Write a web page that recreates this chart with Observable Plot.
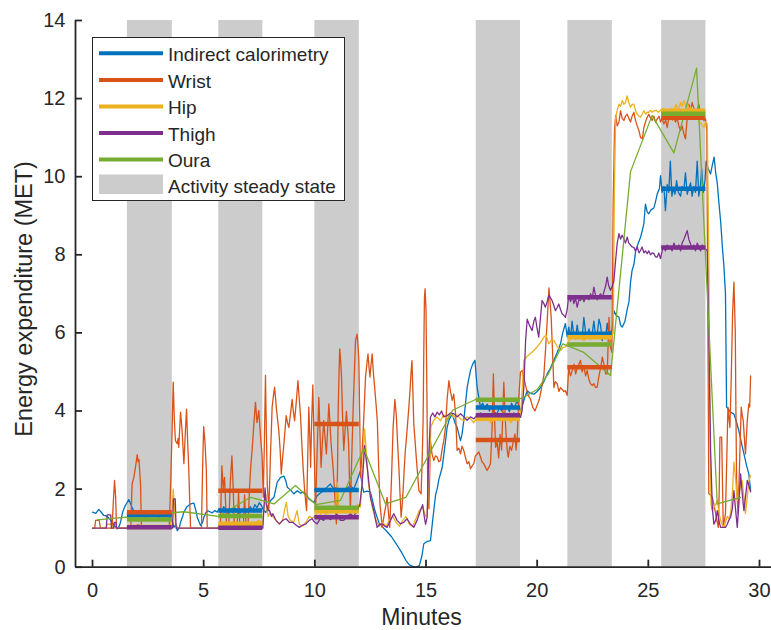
<!DOCTYPE html>
<html><head><meta charset="utf-8">
<script src="https://cdn.jsdelivr.net/npm/d3@7"></script>
<script src="https://cdn.jsdelivr.net/npm/@observablehq/plot@0.6"></script>
<style>html,body{margin:0;padding:0;background:#fff}#chart{position:relative;width:771px;height:630px}</style>
</head><body><div id="chart"></div>
<script>
// ---- data (minutes, MET) ----
const seriesNames = ["Indirect calorimetry", "Wrist", "Hip", "Thigh", "Oura"];
const seriesColors = ["#0072BD", "#D95319", "#EDB120", "#7E2F8E", "#77AC30"];
const bandStarts = [1.57, 5.68, 10.0, 17.26, 21.38, 25.6];
const bandEnds = [3.59, 7.66, 12.0, 19.25, 23.38, 27.59];
const meanIC = [1.33, 1.45, 1.98, 4.09, 5.98, 9.69];
const meanWrist = [1.41, 1.96, 3.67, 3.26, 5.12, 11.51];
const meanHip = [1.03, 1.11, 1.43, 3.80, 5.89, 11.69];
const meanThigh = [1.02, 1.01, 1.28, 3.89, 6.91, 8.19];
const meanOura = [1.22, 1.31, 1.52, 4.29, 5.70, 11.61];
const xTicks = [0, 5, 10, 15, 20, 25, 30];
const yTicks = [0, 2, 4, 6, 8, 10, 12, 14];

const icData = [[0.0,1.41],[0.15,1.38],[0.28,1.48],[0.4,1.4],[0.5,1.33],[0.58,1.32],[0.7,1.28],[0.8,1.22],[0.88,1.15],[1.0,1.05],[1.11,0.98],[1.2,1.05],[1.26,1.15],[1.35,1.4],[1.45,1.55],[1.55,1.65],[1.63,1.73],[1.72,1.62],[1.8,1.5],[1.9,1.4],[2.0,1.35],[2.1,1.3],[2.2,1.38],[2.3,1.32],[2.4,1.28],[2.5,1.35],[2.6,1.3],[2.7,1.36],[2.8,1.3],[2.9,1.33],[3.0,1.28],[3.1,1.35],[3.2,1.3],[3.3,1.38],[3.4,1.3],[3.5,1.28],[3.58,1.2],[3.66,1.02],[3.75,1.1],[3.81,0.94],[3.9,1.0],[3.96,1.15],[4.05,1.3],[4.11,1.41],[4.25,1.55],[4.41,1.62],[4.56,1.64],[4.65,1.45],[4.71,1.28],[4.8,1.15],[4.86,1.07],[4.95,1.15],[5.01,1.28],[5.1,1.4],[5.16,1.45],[5.28,1.42],[5.38,1.39],[5.5,1.45],[5.61,1.41],[5.7,1.5],[5.8,1.42],[5.9,1.55],[6.0,1.45],[6.1,1.38],[6.2,1.48],[6.3,1.4],[6.4,1.52],[6.5,1.42],[6.6,1.35],[6.7,1.45],[6.8,1.5],[6.9,1.4],[7.0,1.48],[7.1,1.55],[7.2,1.45],[7.3,1.6],[7.4,1.52],[7.5,1.65],[7.6,1.58],[7.7,1.45],[7.8,1.4],[7.86,1.54],[8.0,1.7],[8.16,1.79],[8.31,2.18],[8.46,2.3],[8.61,2.33],[8.7,2.2],[8.76,2.05],[8.9,1.98],[9.06,1.88],[9.21,1.96],[9.35,1.9],[9.51,1.92],[9.62,1.85],[9.73,1.75],[9.85,1.7],[9.96,1.66],[10.1,1.83],[10.25,1.9],[10.4,1.96],[10.55,2.05],[10.7,2.13],[10.85,2.0],[11.0,2.05],[11.15,1.95],[11.3,1.96],[11.45,2.02],[11.6,2.09],[11.75,2.0],[11.9,2.22],[12.05,2.47],[12.12,2.1],[12.2,1.92],[12.35,1.95],[12.5,1.92],[12.6,1.7],[12.7,1.45],[12.9,1.11],[13.2,0.94],[13.45,0.78],[13.66,0.6],[13.9,0.38],[14.1,0.17],[14.25,0.06],[14.4,0.02],[14.55,0.0],[14.7,0.04],[14.82,0.3],[14.9,0.6],[15.05,0.66],[15.2,0.68],[15.3,1.2],[15.43,1.85],[15.5,2.0],[15.58,2.25],[15.73,2.56],[15.88,3.24],[15.95,3.58],[16.03,3.76],[16.18,3.93],[16.3,3.7],[16.4,3.58],[16.55,3.24],[16.62,3.4],[16.7,3.76],[16.85,4.6],[17.0,5.04],[17.1,5.2],[17.2,5.3],[17.3,4.6],[17.45,4.1],[17.55,4.2],[17.65,4.05],[17.75,4.18],[17.85,4.0],[17.95,4.12],[18.05,3.98],[18.2,3.93],[18.3,4.1],[18.4,4.0],[18.5,4.15],[18.65,4.1],[18.75,3.98],[18.85,4.2],[18.95,4.05],[19.1,4.27],[19.25,4.0],[19.4,4.27],[19.55,4.52],[19.7,4.45],[19.85,4.43],[20.0,4.5],[20.15,4.6],[20.3,4.75],[20.45,4.95],[20.6,5.1],[20.75,5.3],[20.9,5.5],[21.05,5.72],[21.15,6.0],[21.27,6.24],[21.35,5.9],[21.42,6.15],[21.5,5.85],[21.57,6.3],[21.64,5.98],[21.72,5.85],[21.8,6.2],[21.88,5.9],[21.95,6.0],[22.02,5.85],[22.1,6.4],[22.18,6.0],[22.25,5.9],[22.33,6.1],[22.4,5.85],[22.48,6.0],[22.55,6.3],[22.63,5.9],[22.7,5.95],[22.78,6.35],[22.85,6.2],[22.93,5.8],[23.0,6.0],[23.08,5.9],[23.15,6.25],[23.22,5.95],[23.3,6.0],[23.38,6.1],[23.45,6.57],[23.55,6.45],[23.68,6.4],[23.75,6.2],[23.83,6.15],[23.95,6.3],[24.05,6.6],[24.13,6.8],[24.2,7.3],[24.27,7.6],[24.35,7.75],[24.43,8.1],[24.55,8.3],[24.65,8.45],[24.72,8.6],[24.8,8.8],[24.87,9.3],[24.95,9.1],[25.02,9.05],[25.12,9.15],[25.25,9.2],[25.32,9.35],[25.4,9.56],[25.5,9.7],[25.55,10.03],[25.62,9.6],[25.7,9.75],[25.77,9.13],[25.85,9.8],[25.92,9.6],[25.99,10.4],[26.06,9.5],[26.13,9.7],[26.2,9.55],[26.27,9.9],[26.35,9.6],[26.45,9.5],[26.52,9.75],[26.6,9.65],[26.67,10.1],[26.75,9.55],[26.82,9.7],[26.9,9.84],[26.97,9.5],[27.05,9.75],[27.12,9.6],[27.2,10.4],[27.27,9.5],[27.35,9.8],[27.4,10.2],[27.47,9.6],[27.55,9.9],[27.6,10.4],[27.7,10.2],[27.8,10.07],[27.88,10.3],[27.96,10.5],[28.03,10.1],[28.1,9.84],[28.18,9.3],[28.26,8.8],[28.33,8.2],[28.4,7.7],[28.47,7.0],[28.52,4.1],[28.6,4.05],[28.7,3.97],[28.85,3.92],[28.95,3.75],[29.07,3.5],[29.2,3.15],[29.3,2.9],[29.42,2.6],[29.52,2.39],[29.6,1.96]];

const wristData = [[0.0,1.0],[0.1,1.0],[0.14,1.2],[0.3,1.2],[0.36,1.0],[0.88,1.0],[0.93,1.6],[0.99,2.22],[1.04,1.8],[1.08,1.0],[1.72,1.0],[1.78,2.13],[1.86,2.3],[1.94,2.59],[2.01,2.88],[2.05,2.7],[2.09,2.76],[2.16,2.13],[2.2,1.0],[3.45,1.0],[3.52,2.22],[3.58,3.5],[3.63,4.74],[3.68,3.8],[3.73,3.24],[3.81,3.16],[3.85,3.3],[3.88,3.07],[3.96,3.97],[4.03,3.5],[4.11,2.65],[4.18,3.5],[4.23,4.05],[4.28,3.2],[4.33,2.5],[4.41,1.0],[4.9,1.0],[4.95,2.5],[5.0,3.6],[5.06,3.2],[5.12,2.48],[5.16,1.0],[5.75,1.0],[5.82,2.6],[5.88,2.0],[5.94,2.3],[6.03,1.0],[6.12,1.0],[6.2,2.2],[6.27,2.85],[6.33,2.0],[6.38,1.0],[6.5,1.0],[6.57,1.9],[6.63,1.0],[6.78,1.0],[6.84,1.85],[6.9,1.1],[7.0,1.15],[7.06,2.0],[7.12,2.6],[7.18,3.0],[7.25,3.6],[7.33,4.22],[7.4,3.7],[7.48,4.01],[7.56,3.33],[7.63,2.82],[7.68,1.79],[7.73,3.2],[7.78,4.91],[7.82,3.5],[7.86,2.13],[7.93,1.45],[8.0,2.8],[8.08,4.1],[8.14,4.4],[8.19,4.61],[8.28,4.01],[8.38,3.5],[8.44,3.0],[8.49,2.39],[8.55,2.8],[8.61,3.16],[8.71,3.88],[8.77,3.7],[8.83,3.58],[8.9,3.9],[8.98,4.3],[9.03,4.0],[9.09,3.75],[9.16,4.2],[9.24,4.78],[9.3,4.3],[9.36,3.84],[9.42,3.1],[9.48,2.48],[9.55,1.9],[9.63,1.45],[9.68,2.8],[9.73,4.1],[9.78,3.2],[9.81,2.56],[9.86,3.8],[9.91,4.67],[9.97,3.0],[10.03,1.45],[10.1,2.9],[10.18,4.35],[10.23,3.5],[10.28,2.56],[10.34,3.2],[10.4,3.75],[10.46,3.3],[10.52,2.9],[10.58,3.6],[10.63,4.18],[10.68,3.7],[10.73,3.16],[10.8,2.7],[10.85,2.3],[10.92,1.6],[10.97,1.11],[11.02,2.5],[11.05,3.99],[11.09,5.0],[11.12,5.59],[11.16,5.3],[11.2,4.87],[11.25,3.8],[11.3,2.99],[11.36,3.5],[11.42,3.99],[11.47,3.6],[11.52,3.16],[11.56,2.2],[11.6,1.45],[11.66,2.8],[11.72,3.99],[11.78,5.0],[11.83,5.8],[11.9,5.97],[11.94,5.7],[11.98,5.29],[12.02,3.8],[12.05,2.3],[12.12,2.9],[12.2,3.8],[12.28,4.87],[12.34,5.2],[12.39,5.46],[12.44,5.1],[12.48,4.87],[12.53,5.2],[12.58,5.46],[12.63,5.0],[12.69,4.61],[12.75,4.2],[12.81,3.75],[12.87,2.6],[12.93,1.62],[13.03,1.02],[13.08,1.2],[13.13,1.37],[13.2,1.6],[13.25,1.79],[13.31,1.4],[13.37,1.02],[13.45,2.3],[13.52,3.58],[13.6,4.3],[13.67,3.84],[13.72,3.2],[13.78,2.56],[13.83,1.9],[13.88,1.28],[13.93,1.6],[13.97,1.96],[14.02,2.5],[14.07,2.99],[14.12,3.3],[14.17,3.67],[14.23,4.1],[14.29,4.61],[14.33,5.0],[14.37,5.29],[14.41,4.5],[14.45,3.67],[14.5,3.3],[14.55,2.9],[14.62,2.4],[14.68,1.96],[14.78,1.88],[14.83,2.8],[14.87,3.75],[14.9,5.5],[14.93,6.9],[14.96,7.13],[15.0,6.6],[15.04,4.5],[15.08,1.88],[15.13,1.5],[15.2,3.24],[15.27,2.9],[15.35,2.73],[15.42,2.85],[15.5,2.82],[15.58,2.7],[15.65,2.73],[15.72,3.0],[15.8,3.24],[15.88,3.6],[15.95,4.3],[16.03,4.78],[16.1,4.5],[16.18,4.27],[16.25,4.43],[16.33,3.93],[16.4,2.99],[16.48,3.05],[16.55,2.9],[16.62,3.1],[16.7,2.99],[16.78,2.8],[16.85,2.65],[16.93,2.7],[17.0,2.52],[17.08,2.6],[17.15,2.65],[17.22,2.85],[17.3,2.9],[17.38,2.95],[17.45,2.82],[17.52,2.7],[17.6,2.65],[17.68,2.55],[17.75,2.48],[17.82,2.55],[17.9,2.65],[17.97,3.5],[18.03,4.95],[18.08,3.9],[18.13,3.07],[18.2,3.2],[18.27,2.8],[18.33,3.4],[18.4,3.0],[18.45,3.9],[18.5,4.74],[18.55,4.0],[18.6,3.41],[18.65,3.0],[18.7,2.82],[18.77,3.1],[18.85,2.99],[18.92,3.2],[19.0,3.41],[19.05,3.0],[19.1,3.3],[19.18,4.4],[19.25,5.0],[19.33,5.04],[19.42,4.8],[19.5,4.6],[19.6,4.4],[19.7,4.3],[19.8,4.1],[19.9,4.0],[20.0,4.15],[20.1,4.3],[20.2,4.6],[20.3,4.9],[20.38,5.6],[20.45,6.3],[20.53,7.15],[20.58,6.8],[20.63,6.4],[20.7,5.4],[20.75,4.6],[20.82,4.75],[20.9,4.7],[20.98,4.5],[21.05,4.6],[21.13,4.55],[21.2,4.5],[21.27,4.52],[21.35,4.4],[21.42,5.1],[21.5,4.9],[21.58,5.04],[21.66,5.2],[21.73,4.95],[21.8,5.1],[21.88,5.2],[21.95,5.3],[22.02,5.0],[22.1,5.15],[22.18,4.9],[22.25,5.04],[22.33,4.8],[22.4,4.7],[22.48,4.65],[22.55,4.7],[22.63,4.6],[22.7,4.61],[22.78,4.9],[22.85,5.1],[22.93,5.38],[23.0,5.2],[23.08,4.95],[23.15,4.95],[23.23,6.4],[23.3,5.63],[23.36,5.5],[23.42,9.39],[23.48,11.2],[23.53,11.57],[23.6,11.3],[23.68,11.4],[23.75,11.69],[23.82,11.5],[23.9,11.44],[23.97,11.55],[24.05,11.6],[24.12,11.5],[24.2,11.4],[24.27,11.55],[24.35,11.65],[24.42,11.45],[24.5,11.3],[24.58,11.18],[24.65,11.0],[24.73,10.97],[24.8,11.26],[24.87,11.4],[24.95,11.52],[25.02,11.6],[25.1,11.5],[25.17,11.44],[25.25,11.55],[25.32,11.4],[25.4,11.48],[25.48,11.55],[25.55,11.4],[25.62,11.5],[25.7,11.35],[25.78,11.45],[25.85,11.26],[25.92,11.5],[26.0,11.6],[26.08,11.45],[26.15,11.52],[26.22,11.4],[26.3,11.5],[26.37,11.3],[26.45,11.18],[26.52,11.3],[26.6,11.1],[26.67,10.97],[26.75,11.5],[26.82,11.86],[26.9,11.7],[26.97,11.9],[27.05,11.75],[27.12,11.6],[27.2,11.7],[27.27,11.86],[27.35,11.6],[27.42,11.5],[27.5,11.44],[27.57,11.48],[27.63,11.2],[27.68,6.0],[27.72,1.88],[27.8,1.85],[27.88,1.79],[27.95,1.6],[28.03,1.37],[28.1,1.15],[28.15,1.02],[28.19,2.0],[28.22,3.33],[28.3,3.33],[28.34,2.0],[28.37,1.02],[28.42,1.2],[28.47,1.37],[28.53,2.8],[28.58,4.1],[28.63,3.8],[28.67,3.58],[28.73,4.86],[28.79,6.49],[28.85,7.3],[28.91,6.06],[28.94,4.0],[28.97,2.22],[29.03,1.37],[29.1,2.56],[29.14,3.4],[29.18,4.1],[29.22,3.9],[29.27,3.75],[29.32,3.3],[29.37,2.9],[29.45,3.75],[29.52,4.18],[29.56,4.1],[29.6,4.9]];

const hipData = [[0.0,1.0],[0.6,1.0],[0.66,1.1],[0.84,1.1],[0.9,1.0],[1.5,1.0],[1.8,1.05],[2.1,1.0],[2.5,1.05],[3.0,1.02],[3.5,1.05],[3.58,1.4],[3.63,2.0],[3.68,1.6],[3.73,1.1],[3.85,1.0],[5.6,1.0],[5.75,1.1],[6.0,1.05],[6.3,1.15],[6.6,1.1],[6.9,1.15],[7.2,1.1],[7.5,1.2],[7.65,1.1],[7.72,1.6],[7.78,1.9],[7.84,1.5],[7.9,1.3],[8.0,1.4],[8.1,1.3],[8.25,1.2],[8.4,1.1],[8.55,1.2],[8.65,1.5],[8.72,1.66],[8.8,1.3],[8.9,1.2],[9.05,1.15],[9.15,1.35],[9.2,1.45],[9.3,1.1],[9.45,1.05],[9.6,1.15],[9.75,1.3],[9.9,1.25],[10.05,1.35],[10.2,1.3],[10.35,1.45],[10.5,1.35],[10.65,1.4],[10.8,1.5],[10.95,1.6],[11.02,2.17],[11.08,1.6],[11.2,1.45],[11.35,1.5],[11.5,1.4],[11.65,1.45],[11.8,1.55],[11.95,1.6],[12.05,1.54],[12.15,2.5],[12.24,3.54],[12.32,2.9],[12.4,2.2],[12.5,1.8],[12.6,1.5],[12.75,1.2],[12.9,1.05],[13.05,1.15],[13.2,1.05],[13.35,1.2],[13.5,1.3],[13.65,1.15],[13.8,1.05],[13.95,1.2],[14.1,1.3],[14.25,1.1],[14.4,1.05],[14.55,1.25],[14.7,1.45],[14.85,1.55],[14.98,1.3],[15.05,1.3],[15.15,2.5],[15.22,3.6],[15.35,3.76],[15.5,3.85],[15.65,3.75],[15.8,3.9],[15.95,3.8],[16.1,3.95],[16.25,3.84],[16.4,3.9],[16.55,3.8],[16.7,3.75],[16.85,3.85],[17.0,3.8],[17.15,3.7],[17.3,3.85],[17.45,3.75],[17.6,3.8],[17.75,3.85],[17.9,3.7],[18.05,3.8],[18.2,3.9],[18.35,3.75],[18.5,3.8],[18.65,3.85],[18.8,3.7],[18.95,3.8],[19.1,3.9],[19.25,3.84],[19.33,4.6],[19.4,5.3],[19.55,5.4],[19.7,5.47],[19.85,5.55],[20.0,5.64],[20.15,5.75],[20.3,5.89],[20.4,5.95],[20.52,5.72],[20.62,5.8],[20.75,5.81],[20.9,5.65],[21.05,5.55],[21.15,5.62],[21.27,5.64],[21.38,5.75],[21.5,5.85],[21.65,5.95],[21.8,5.85],[21.95,5.9],[22.1,5.8],[22.25,5.95],[22.4,5.85],[22.55,5.9],[22.7,6.0],[22.85,5.85],[23.0,5.9],[23.15,5.95],[23.3,5.85],[23.42,6.0],[23.47,9.5],[23.53,11.52],[23.6,11.7],[23.68,11.86],[23.75,11.8],[23.83,11.95],[23.9,11.85],[23.97,11.9],[24.05,12.07],[24.12,11.9],[24.2,11.78],[24.27,11.85],[24.35,11.86],[24.42,11.7],[24.5,11.6],[24.58,11.55],[24.65,11.52],[24.72,11.6],[24.8,11.69],[24.88,11.6],[24.95,11.65],[25.02,11.65],[25.1,11.7],[25.17,11.65],[25.25,11.69],[25.35,11.7],[25.45,11.65],[25.55,11.7],[25.65,11.75],[25.75,11.65],[25.85,11.7],[25.95,11.6],[26.05,11.75],[26.15,11.7],[26.25,11.85],[26.35,11.7],[26.45,11.9],[26.52,11.8],[26.6,11.95],[26.68,11.8],[26.75,11.9],[26.82,11.75],[26.9,11.78],[27.0,11.6],[27.1,11.5],[27.2,11.55],[27.3,11.4],[27.4,11.35],[27.5,11.26],[27.57,11.4],[27.65,11.35],[27.72,8.0],[27.78,3.0],[27.82,1.6],[27.88,1.45],[27.95,1.55],[28.03,1.6],[28.1,1.71],[28.18,1.4],[28.25,1.2],[28.32,1.1],[28.4,1.02],[28.47,1.15],[28.55,1.3],[28.62,1.25],[28.7,1.37],[28.78,1.9],[28.85,2.69],[28.92,2.3],[29.0,1.7],[29.07,1.88],[29.15,2.1],[29.22,2.22],[29.3,1.8],[29.37,1.37],[29.45,1.8],[29.52,2.2],[29.6,2.35]];

const thighData = [[0.0,1.0],[0.62,1.0],[0.66,1.34],[0.82,1.34],[0.85,1.0],[0.95,1.0],[0.98,1.15],[1.05,1.15],[1.08,1.0],[1.95,1.0],[2.0,1.08],[2.1,1.08],[2.15,1.0],[3.6,1.0],[3.64,1.75],[3.72,1.75],[3.76,1.0],[7.66,1.0],[7.72,1.6],[7.76,2.03],[7.82,1.6],[7.9,1.45],[7.96,1.45],[8.05,1.3],[8.11,1.37],[8.25,1.2],[8.41,1.11],[8.55,1.2],[8.71,1.24],[8.85,1.15],[9.0,1.15],[9.15,1.08],[9.3,1.02],[9.45,1.08],[9.6,1.11],[9.75,1.2],[9.88,1.24],[10.0,1.15],[10.1,1.11],[10.25,1.25],[10.4,1.2],[10.55,1.3],[10.7,1.22],[10.85,1.28],[11.0,1.35],[11.15,1.2],[11.3,1.2],[11.45,1.3],[11.6,1.37],[11.75,1.3],[11.9,1.45],[12.02,1.6],[12.13,2.13],[12.24,3.11],[12.3,2.8],[12.36,2.55],[12.5,1.79],[12.65,1.45],[12.8,1.02],[12.92,1.1],[13.03,1.11],[13.15,1.05],[13.25,1.02],[13.4,1.2],[13.55,1.37],[13.7,1.2],[13.85,1.11],[14.0,1.15],[14.15,1.24],[14.3,1.1],[14.45,1.02],[14.6,1.2],[14.75,1.45],[14.85,1.6],[14.92,1.3],[14.98,1.1],[15.05,1.28],[15.12,2.8],[15.2,3.84],[15.3,3.95],[15.4,3.85],[15.5,3.97],[15.6,3.9],[15.7,4.0],[15.8,3.85],[15.95,3.88],[16.1,3.95],[16.25,3.93],[16.4,3.85],[16.55,3.93],[16.7,3.85],[16.85,3.76],[17.0,3.85],[17.15,3.8],[17.3,3.9],[17.45,3.95],[17.6,3.88],[17.75,3.92],[17.9,3.85],[18.05,3.95],[18.2,3.9],[18.35,3.85],[18.5,3.95],[18.65,3.88],[18.8,3.9],[18.95,3.95],[19.1,3.85],[19.25,3.84],[19.32,4.0],[19.4,4.6],[19.48,5.8],[19.55,6.35],[19.65,6.2],[19.77,6.06],[19.85,6.3],[19.92,6.4],[20.0,6.1],[20.07,5.89],[20.15,6.4],[20.22,6.83],[20.3,6.75],[20.37,6.66],[20.45,6.8],[20.52,6.96],[20.6,6.9],[20.67,6.83],[20.75,6.7],[20.82,6.57],[20.9,6.65],[20.97,6.74],[21.05,6.6],[21.12,6.49],[21.2,6.45],[21.27,6.4],[21.35,6.6],[21.42,6.96],[21.5,6.8],[21.58,6.95],[21.65,6.75],[21.72,6.9],[21.8,6.66],[21.88,6.85],[21.95,6.83],[22.03,6.95],[22.1,6.8],[22.18,6.9],[22.25,6.91],[22.33,6.85],[22.4,7.0],[22.48,6.9],[22.55,7.17],[22.63,6.95],[22.7,6.85],[22.78,6.95],[22.85,7.0],[22.93,6.9],[23.0,7.05],[23.08,7.2],[23.15,7.43],[23.22,7.2],[23.3,7.09],[23.38,7.2],[23.45,7.34],[23.52,7.8],[23.6,8.3],[23.68,8.54],[23.75,8.4],[23.82,8.5],[23.9,8.41],[23.97,8.3],[24.05,8.45],[24.12,8.3],[24.2,8.25],[24.27,8.2],[24.35,8.19],[24.42,8.1],[24.5,8.2],[24.58,8.05],[24.65,8.11],[24.72,8.2],[24.8,8.05],[24.87,8.1],[24.95,8.03],[25.02,8.1],[25.1,8.0],[25.17,8.05],[25.25,8.03],[25.32,7.95],[25.4,7.94],[25.47,8.05],[25.55,7.9],[25.62,8.1],[25.7,8.2],[25.77,8.1],[25.85,8.25],[25.92,8.15],[26.0,8.19],[26.07,8.1],[26.15,8.3],[26.22,8.2],[26.3,8.15],[26.37,8.25],[26.45,8.1],[26.52,8.3],[26.6,8.4],[26.67,8.5],[26.75,8.62],[26.82,8.4],[26.9,8.28],[26.97,8.15],[27.05,8.25],[27.12,8.1],[27.2,8.3],[27.27,8.2],[27.35,8.1],[27.42,8.25],[27.5,8.19],[27.57,8.15],[27.65,8.11],[27.72,6.0],[27.8,3.0],[27.88,1.5],[27.95,1.1],[28.03,1.2],[28.1,1.45],[28.17,1.2],[28.25,1.02],[28.35,1.02],[28.47,1.02],[28.55,1.1],[28.62,1.2],[28.7,1.28],[28.78,1.5],[28.85,1.96],[28.92,1.5],[29.0,1.02],[29.07,1.6],[29.15,2.39],[29.22,1.9],[29.3,1.45],[29.37,1.8],[29.45,2.22],[29.52,2.1],[29.6,1.93]];

const ouraData = [[0.21,1.21],[4.1,1.42],[5.65,1.3],[7.11,1.79],[8.16,1.62],[9.13,2.09],[10.05,1.6],[11.15,1.71],[12.2,3.04],[13.18,1.62],[14.1,1.79],[16.2,4.02],[17.25,4.3],[19.3,4.32],[20.0,4.55],[20.5,4.95],[21.15,5.72],[22.1,5.5],[23.3,4.91],[24.2,10.13],[25.17,11.57],[26.15,10.61],[27.17,12.78],[28.1,1.62],[29.15,1.79]];

// ---- build tables ----
const seriesData = [icData, wristData, hipData, thighData, ouraData];
const seriesMeans = [meanIC, meanWrist, meanHip, meanThigh, meanOura];
const lines = seriesData.flatMap((arr, i) => arr.map(([t, v]) => ({series: seriesNames[i], t, v})));
const bands = bandStarts.map((a, i) => ({a, b: bandEnds[i]}));
const means = seriesMeans.flatMap((arr, i) => arr.map((v, j) => ({series: seriesNames[i], a: bandStarts[j], b: bandEnds[j], v})));

const W = 771, H = 630;
const mL = 75, mR = 0, mT = 20, mB = 63.3;
const xDomain = [-0.765, 30.54];
const yDomain = [0, 14];
const pxPerMin = (W - mL - mR) / (xDomain[1] - xDomain[0]);
const pxPerMET = (H - mT - mB) / (yDomain[1] - yDomain[0]);
const ink = "#262626";
const font = "'Liberation Sans', Arial, Helvetica, sans-serif";

const chart = Plot.plot({
  width: W, height: H,
  marginLeft: mL, marginRight: mR, marginTop: mT, marginBottom: mB,
  x: {domain: xDomain},
  y: {domain: yDomain},
  color: {domain: seriesNames, range: seriesColors},
  style: {fontFamily: font, color: ink, background: "#fff", overflow: "visible"},
  marks: [
    Plot.rect(bands, {x1: "a", x2: "b", y1: yDomain[0], y2: yDomain[1], fill: "#cccccc"}),
    ...seriesNames.map(name => Plot.line(lines.filter(d => d.series === name), {x: "t", y: "v", stroke: "series", strokeWidth: 1.3, curve: "linear"})),
    ...seriesNames.map(name => Plot.ruleY(means.filter(d => d.series === name), {y: "v", x1: "a", x2: "b", stroke: "series", strokeWidth: 4.5, strokeLinecap: "butt"})),
    // axis lines
    Plot.ruleX([xDomain[0]], {y1: yDomain[0], y2: yDomain[1], stroke: ink, strokeWidth: 1.8}),
    Plot.ruleY([yDomain[0]], {x1: xDomain[0], x2: xDomain[1], stroke: ink, strokeWidth: 1.8}),
    // inward ticks
    Plot.ruleX(xTicks, {x: d => d, y1: yDomain[0], y2: yDomain[0] + 7 / pxPerMET, stroke: ink, strokeWidth: 1.8}),
    Plot.ruleY(yTicks, {y: d => d, x1: xDomain[0], x2: xDomain[0] + 7 / pxPerMin, stroke: ink, strokeWidth: 1.8}),
    Plot.axisX(xTicks, {tickSize: 0, tickPadding: 16, fontSize: 20, label: null, fill: ink}),
    Plot.axisY(yTicks, {tickSize: 0, tickPadding: 10, fontSize: 20, label: null, fill: ink}),
    Plot.text(["Minutes"], {frameAnchor: "bottom", dy: 57.5, dx: -2, textAnchor: "middle", lineAnchor: "bottom", fontSize: 23, fill: ink}),
    Plot.text(["Energy expenditure (MET)"], {frameAnchor: "left", rotate: -90, dx: -43.5, dy: 5, textAnchor: "middle", lineAnchor: "bottom", fontSize: 23.5, fill: ink})
  ]
});

// ---- legend (inside the axes, top-left) ----
const svg = d3.select(chart);
const lg = svg.append("g").attr("font-family", font).attr("font-size", 19).attr("fill", ink).attr("text-anchor", "start");
lg.append("rect").attr("x", 92.5).attr("y", 37.5).attr("width", 252).attr("height", 163)
  .attr("fill", "#fff").attr("stroke", ink).attr("stroke-width", 1);
const rowY = [53.3, 80.0, 106.5, 133.0, 159.5];
seriesNames.forEach((name, i) => {
  lg.append("line").attr("x1", 99).attr("x2", 163).attr("y1", rowY[i]).attr("y2", rowY[i])
    .attr("stroke", seriesColors[i]).attr("stroke-width", 4);
  lg.append("text").attr("x", 168).attr("y", rowY[i] + 7.5).attr("text-anchor", "start").text(name);
});
lg.append("rect").attr("x", 99).attr("y", 174.5).attr("width", 64).attr("height", 19.5).attr("fill", "#cccccc");
lg.append("text").attr("x", 168).attr("y", 185 + 7.5).attr("text-anchor", "start").text("Activity steady state");

document.getElementById("chart").appendChild(chart);
</script></body></html>
